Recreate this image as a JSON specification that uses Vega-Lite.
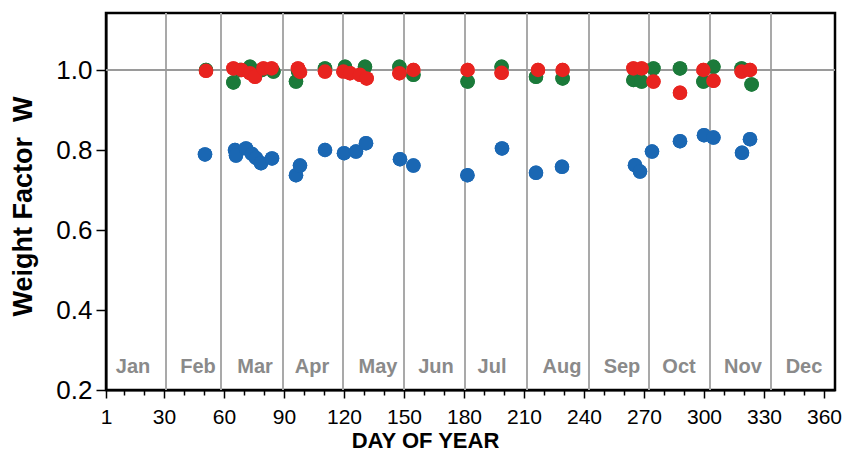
{
  "$schema": "https://vega.github.io/schema/vega-lite/v6.json",
  "width": 729,
  "height": 377,
  "autosize": "none",
  "padding": {"left": 106, "top": 13, "right": 8, "bottom": 63},
  "background": "white",
  "config": {
    "font": "Liberation Sans",
    "view": {"stroke": "black", "strokeWidth": 2.5},
    "axis": {"domainColor": "black", "domainWidth": 2, "tickColor": "black", "tickWidth": 1.5, "grid": false, "labelColor": "black", "titleColor": "black", "labelOverlap": false, "labelFlush": false, "labelBound": false}
  },
  "datasets": {
    "points": [
      {"day": 50.5, "w": 0.789, "series": "blue"},
      {"day": 65.5, "w": 0.800, "series": "blue"},
      {"day": 66, "w": 0.786, "series": "blue"},
      {"day": 71, "w": 0.804, "series": "blue"},
      {"day": 74, "w": 0.790, "series": "blue"},
      {"day": 76, "w": 0.780, "series": "blue"},
      {"day": 78.5, "w": 0.767, "series": "blue"},
      {"day": 84, "w": 0.779, "series": "blue"},
      {"day": 96, "w": 0.737, "series": "blue"},
      {"day": 98, "w": 0.761, "series": "blue"},
      {"day": 110.5, "w": 0.800, "series": "blue"},
      {"day": 120, "w": 0.792, "series": "blue"},
      {"day": 126, "w": 0.796, "series": "blue"},
      {"day": 131, "w": 0.817, "series": "blue"},
      {"day": 148, "w": 0.777, "series": "blue"},
      {"day": 154.7, "w": 0.761, "series": "blue"},
      {"day": 181.7, "w": 0.737, "series": "blue"},
      {"day": 199, "w": 0.804, "series": "blue"},
      {"day": 216, "w": 0.743, "series": "blue"},
      {"day": 229, "w": 0.758, "series": "blue"},
      {"day": 265.5, "w": 0.762, "series": "blue"},
      {"day": 268, "w": 0.746, "series": "blue"},
      {"day": 274, "w": 0.796, "series": "blue"},
      {"day": 288, "w": 0.822, "series": "blue"},
      {"day": 300, "w": 0.837, "series": "blue"},
      {"day": 304.7, "w": 0.831, "series": "blue"},
      {"day": 319, "w": 0.793, "series": "blue"},
      {"day": 323, "w": 0.827, "series": "blue"},

      {"day": 51, "w": 1.0, "series": "green"},
      {"day": 64.7, "w": 0.969, "series": "green"},
      {"day": 68, "w": 1.0, "series": "green"},
      {"day": 73, "w": 1.008, "series": "green"},
      {"day": 79, "w": 1.0, "series": "green"},
      {"day": 84.7, "w": 0.996, "series": "green"},
      {"day": 96, "w": 0.971, "series": "green"},
      {"day": 97, "w": 0.998, "series": "green"},
      {"day": 110.5, "w": 1.004, "series": "green"},
      {"day": 120.5, "w": 1.008, "series": "green"},
      {"day": 130.5, "w": 1.008, "series": "green"},
      {"day": 147.7, "w": 1.008, "series": "green"},
      {"day": 154.7, "w": 0.988, "series": "green"},
      {"day": 181.8, "w": 0.971, "series": "green"},
      {"day": 198.8, "w": 1.008, "series": "green"},
      {"day": 216, "w": 0.983, "series": "green"},
      {"day": 229.3, "w": 0.979, "series": "green"},
      {"day": 264.7, "w": 0.975, "series": "green"},
      {"day": 268.8, "w": 0.971, "series": "green"},
      {"day": 274.7, "w": 1.004, "series": "green"},
      {"day": 288, "w": 1.004, "series": "green"},
      {"day": 299.7, "w": 0.971, "series": "green"},
      {"day": 304.7, "w": 1.008, "series": "green"},
      {"day": 318.8, "w": 1.004, "series": "green"},
      {"day": 323.8, "w": 0.964, "series": "green"},

      {"day": 51, "w": 0.998, "series": "red"},
      {"day": 64.7, "w": 1.004, "series": "red"},
      {"day": 68.8, "w": 1.0, "series": "red"},
      {"day": 73, "w": 0.992, "series": "red"},
      {"day": 75.5, "w": 0.983, "series": "red"},
      {"day": 79.7, "w": 1.004, "series": "red"},
      {"day": 83.8, "w": 1.004, "series": "red"},
      {"day": 97, "w": 1.004, "series": "red"},
      {"day": 98, "w": 0.995, "series": "red"},
      {"day": 110.5, "w": 0.996, "series": "red"},
      {"day": 119.7, "w": 0.996, "series": "red"},
      {"day": 123, "w": 0.992, "series": "red"},
      {"day": 128, "w": 0.988, "series": "red"},
      {"day": 131.3, "w": 0.979, "series": "red"},
      {"day": 147.7, "w": 0.992, "series": "red"},
      {"day": 154.7, "w": 1.0, "series": "red"},
      {"day": 181.8, "w": 1.0, "series": "red"},
      {"day": 198.8, "w": 0.993, "series": "red"},
      {"day": 217, "w": 1.0, "series": "red"},
      {"day": 229.3, "w": 1.0, "series": "red"},
      {"day": 264.7, "w": 1.004, "series": "red"},
      {"day": 268.8, "w": 1.004, "series": "red"},
      {"day": 274.7, "w": 0.971, "series": "red"},
      {"day": 288, "w": 0.943, "series": "red"},
      {"day": 299.7, "w": 1.0, "series": "red"},
      {"day": 304.7, "w": 0.973, "series": "red"},
      {"day": 318.8, "w": 0.996, "series": "red"},
      {"day": 323, "w": 1.0, "series": "red"}
    ],
    "bounds": [
      {"day": 31}, {"day": 58.5}, {"day": 89.5}, {"day": 119.5}, {"day": 150},
      {"day": 180.5}, {"day": 211.5}, {"day": 242.5}, {"day": 272.5}, {"day": 303}, {"day": 333.5}
    ],
    "months": [
      {"day": 14.5, "month": "Jan"}, {"day": 47, "month": "Feb"}, {"day": 75.5, "month": "Mar"},
      {"day": 104, "month": "Apr"}, {"day": 137, "month": "May"}, {"day": 166, "month": "Jun"},
      {"day": 194, "month": "Jul"}, {"day": 229, "month": "Aug"}, {"day": 259, "month": "Sep"},
      {"day": 287.5, "month": "Oct"}, {"day": 319.5, "month": "Nov"}, {"day": 350, "month": "Dec"}
    ]
  },
  "layer": [
    {
      "data": {"name": "points"},
      "mark": {"type": "circle", "size": 210, "opacity": 1},
      "encoding": {
        "x": {
          "field": "day", "type": "quantitative",
          "scale": {"domain": [1, 365.5], "nice": false, "zero": false},
          "axis": {
            "title": "DAY OF YEAR",
            "titleFont": "Liberation Sans", "titleFontSize": 22, "titleFontWeight": "bold",
            "titleX": 319, "titleY": 57, "titleAlign": "center", "titleBaseline": "alphabetic",
            "values": [1, 10, 20, 30, 40, 50, 60, 70, 80, 90, 100, 110, 120, 130, 140, 150, 160, 170, 180, 190, 200, 210, 220, 230, 240, 250, 260, 270, 280, 290, 300, 310, 320, 330, 340, 350, 360],
            "tickCount": 100,
            "labelExpr": "(datum.value == 1 || datum.value % 30 == 0) ? datum.label : ''",
            "labelFontSize": 21, "labelFont": "Liberation Sans", "labelPadding": 8,
            "labelFlush": false, "labelOverlap": false, "labelBound": false,
            "tickSize": {"condition": {"test": "datum.value == 1 || datum.value % 30 == 0", "value": 8}, "value": 5}
          }
        },
        "y": {
          "field": "w", "type": "quantitative",
          "scale": {"domain": [0.2, 1.1425], "nice": false, "zero": false},
          "axis": {
            "title": "Weight Factor\u00a0\u00a0W",
            "titleFont": "Liberation Sans", "titleFontSize": 27, "titleFontWeight": "bold",
            "titleAngle": -90, "titleX": -75, "titleY": 193, "titleAlign": "center", "titleBaseline": "alphabetic",
            "values": [0.2, 0.4, 0.6, 0.8, 1.0], "format": ".1f",
            "tickCount": 20,
            "labelFontSize": 26, "labelFont": "Liberation Sans", "labelPadding": 4,
            "labelFlush": false, "labelOverlap": false,
            "tickSize": 10
          }
        },
        "color": {
          "field": "series", "type": "nominal",
          "scale": {"domain": ["blue", "green", "red"], "range": ["#1a67b3", "#1b7a3a", "#e8231f"]},
          "legend": null
        }
      }
    },
    {
      "data": {"name": "bounds"},
      "mark": {"type": "rule", "color": "#a9a9a9", "strokeWidth": 2},
      "encoding": {
        "x": {"field": "day", "type": "quantitative"}
      }
    },
    {
      "data": {"name": "bounds"},
      "mark": {"type": "rule", "color": "#9a9a9a", "strokeWidth": 2},
      "encoding": {
        "y": {"datum": 1.0, "type": "quantitative"}
      }
    },
    {
      "data": {"name": "months"},
      "mark": {"type": "text", "font": "Liberation Sans", "fontWeight": "bold", "fontSize": 20, "color": "#8a8a8a", "baseline": "middle", "align": "center"},
      "encoding": {
        "x": {"field": "day", "type": "quantitative"},
        "y": {"datum": 0.258, "type": "quantitative"},
        "text": {"field": "month"}
      }
    },
    {
      "data": {"name": "points"},
      "mark": {"type": "circle", "size": 210, "opacity": 1},
      "encoding": {
        "x": {"field": "day", "type": "quantitative"},
        "y": {"field": "w", "type": "quantitative"},
        "color": {"field": "series", "type": "nominal", "legend": null}
      }
    }
  ]
}
